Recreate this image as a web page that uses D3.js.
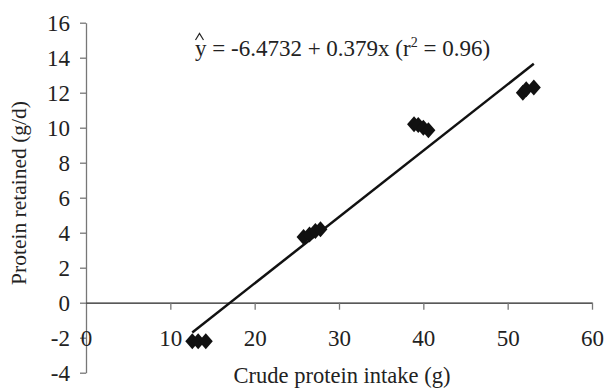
<!DOCTYPE html>
<html>
<head>
<meta charset="utf-8">
<script src="https://cdn.jsdelivr.net/npm/d3@7"></script>
<style>
  body { margin: 0; background: #fff; }
</style>
</head>
<body>
<svg width="608" height="389"></svg>
<script>
var intake   = [12.6, 13.3, 14.2, 25.8, 26.5, 27.2, 27.8, 38.9, 39.4, 40.0, 40.6, 51.8, 52.2, 53.1];
var retained = [-2.2, -2.2, -2.2, 3.75, 3.9, 4.1, 4.2, 10.2, 10.15, 10.0, 9.85, 12.0, 12.2, 12.3];
var xTicks = [0, 10, 20, 30, 40, 50, 60];
var yTicks = [-4, -2, 0, 2, 4, 6, 8, 10, 12, 14, 16];
var intercept = -6.4732, slope = 0.379;
var fitRange = [12.6, 53.1];

var serif = "'Liberation Serif', 'Times New Roman', 'DejaVu Serif', serif";
var hyphenFmt = function (d) { return String(d); };

var svg = d3.select("svg");

var scaleX = d3.scaleLinear().domain([0, 60]).range([86, 592]),
    scaleY = d3.scaleLinear().domain([-4, 16]).range([372.7, 22.7]);

// y axis (grey, ticks outward)
var axisY = svg.append("g")
    .attr("transform", "translate(" + scaleX(0) + ",0)")
    .call(d3.axisLeft(scaleY).tickValues(yTicks).tickSize(6).tickSizeOuter(0).tickPadding(10).tickFormat(hyphenFmt));
axisY.attr("font-family", null).attr("font-size", null);
axisY.select(".domain").attr("stroke", "#777").attr("stroke-width", 1.3);
axisY.selectAll(".tick line").attr("stroke", "#777").attr("stroke-width", 1.3);
axisY.selectAll("text").style("font-family", serif).style("font-size", "23px").attr("fill", "#222");

// x axis sits on y = 0, labels are pushed down to the -2 level
var axisX = svg.append("g")
    .attr("transform", "translate(0," + scaleY(0) + ")")
    .call(d3.axisBottom(scaleX).tickValues(xTicks).tickSize(7).tickSizeOuter(0).tickFormat(hyphenFmt));
axisX.attr("font-family", null).attr("font-size", null);
axisX.select(".domain").attr("stroke", "#222").attr("stroke-width", 1.3);
axisX.selectAll(".tick line").attr("stroke", "#777").attr("stroke-width", 1.3)
    .attr("display", function (d) { return d === 0 ? "none" : null; });
axisX.selectAll("text")
    .attr("y", scaleY(-2) - scaleY(0))
    .attr("dy", "0.35em")
    .style("font-family", serif).style("font-size", "23px").attr("fill", "#222");

// regression line
var line = d3.line()
    .x(function (d) { return scaleX(d); })
    .y(function (d) { return scaleY(intercept + slope * d); });
svg.append("path")
    .datum(fitRange)
    .attr("d", line)
    .attr("fill", "none")
    .attr("stroke", "#111")
    .attr("stroke-width", 2.5);

// diamond markers
var hw = 7, hh = 8;
var diamond = "M0," + (-hh) + "L" + hw + ",0L0," + hh + "L" + (-hw) + ",0Z";
svg.append("g").selectAll("path")
    .data(intake.map(function (x, i) { return {x: x, y: retained[i]}; }))
    .enter().append("path")
    .attr("d", diamond)
    .attr("transform", function (d) { return "translate(" + scaleX(d.x) + "," + scaleY(d.y) + ")"; })
    .attr("fill", "#111");

// axis titles
svg.append("text")
    .attr("x", 342).attr("y", 383)
    .attr("text-anchor", "middle")
    .style("font-family", serif).style("font-size", "22.5px").attr("fill", "#222")
    .text("Crude protein intake (g)");

svg.append("text")
    .attr("transform", "translate(26,193) rotate(-90)")
    .attr("text-anchor", "middle")
    .style("font-family", serif).style("font-size", "21.5px").attr("fill", "#222")
    .text("Protein retained (g/d)");

// equation
var eq = svg.append("text")
    .attr("x", 195).attr("y", 56)
    .style("font-family", serif).style("font-size", "23px").attr("fill", "#222");
eq.append("tspan").text("y = -6.4732 + 0.379x (r");
eq.append("tspan").attr("dy", -9).style("font-size", "14px").text("2");
eq.append("tspan").attr("dy", 9).text(" = 0.96)");

// hat over the y
svg.append("path")
    .attr("d", "M195.5,40L199.5,33.5L203.5,40")
    .attr("fill", "none")
    .attr("stroke", "#222")
    .attr("stroke-width", 1.2);
</script>
</body>
</html>
